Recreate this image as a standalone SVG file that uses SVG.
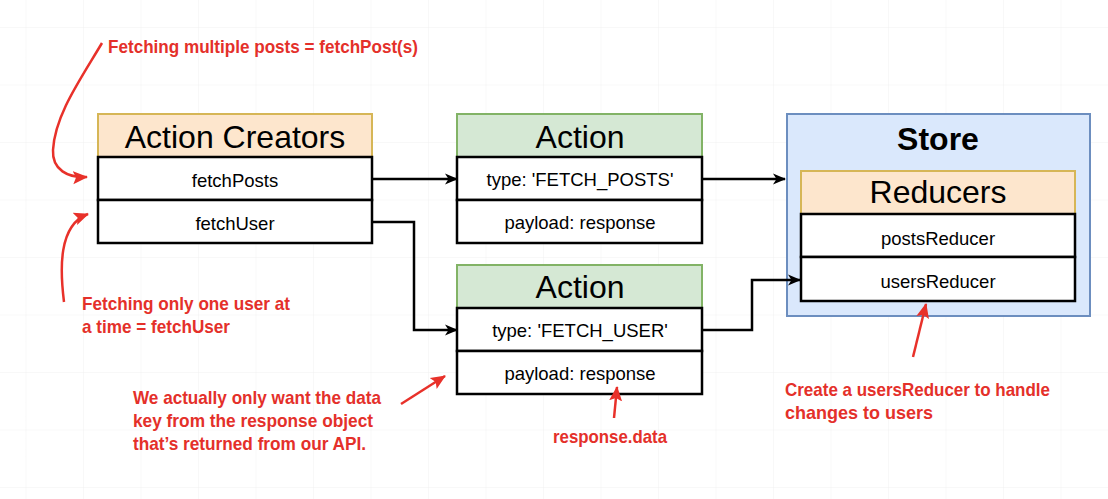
<svg xmlns="http://www.w3.org/2000/svg" width="1108" height="499" viewBox="0 0 1108 499">
<style>
.hdr{font-family:"Liberation Sans",Arial,sans-serif;font-size:32px;fill:#000;text-anchor:middle}
.row{font-family:"Liberation Sans",Arial,sans-serif;font-size:18.5px;fill:#000;text-anchor:middle}
.box{fill:#fff;stroke:#000;stroke-width:2.5}
.orange{fill:#fde6cd;stroke:#d6b656;stroke-width:2}
.green{fill:#d5e8d4;stroke:#82b366;stroke-width:2}
.conn{fill:none;stroke:#000;stroke-width:2.5}
.note{font-family:"Liberation Sans",Arial,sans-serif;font-size:19px;font-weight:bold;fill:#e4302a}
.red{fill:none;stroke:#e8312a;stroke-width:2.5}
</style>
<defs>
<pattern id="grid" x="25.5" y="27" width="57.5" height="57.5" patternUnits="userSpaceOnUse">
<path d="M0 0 H57.5 M0 0 V57.5" fill="none" stroke="#f1f1f1" stroke-width="1"/>
</pattern>
<marker id="blk" markerUnits="userSpaceOnUse" markerWidth="14" markerHeight="14" viewBox="0 0 14 14" refX="12" refY="7" orient="auto">
<path d="M0 1.5 L13 7 L0 12.5 L3.5 7 Z" fill="#000"/>
</marker>
<marker id="rd" markerUnits="userSpaceOnUse" markerWidth="16" markerHeight="16" viewBox="0 0 16 16" refX="14" refY="8" orient="auto">
<path d="M0 1.5 L15 8 L0 14.5 L3 8 Z" fill="#e8312a"/>
</marker>
</defs>
<rect width="1108" height="499" fill="#fff"/>
<rect width="1108" height="499" fill="url(#grid)"/>

<g id="store">
<rect x="787" y="114" width="303" height="202" fill="#dae8fc" stroke="#6c8ebf" stroke-width="2"/>
<text x="938" y="150" class="hdr" font-weight="bold">Store</text>
</g>

<g id="action-creators">
<rect x="98" y="114" width="274" height="43" class="orange"/>
<text x="235" y="147.5" class="hdr">Action Creators</text>
<rect x="98" y="157" width="274" height="43" class="box"/>
<text x="235" y="186.5" class="row">fetchPosts</text>
<rect x="98" y="200" width="274" height="43" class="box"/>
<text x="235" y="229.5" class="row">fetchUser</text>
</g>

<g id="action-posts">
<rect x="457" y="114" width="245" height="43" class="green"/>
<text x="580" y="147.5" class="hdr">Action</text>
<rect x="457" y="157" width="245" height="43" class="box"/>
<text x="580" y="186" class="row">type: 'FETCH_POSTS'</text>
<rect x="457" y="200" width="245" height="43" class="box"/>
<text x="580" y="229" class="row">payload: response</text>
</g>

<g id="action-user">
<rect x="457" y="265" width="245" height="43" class="green"/>
<text x="580" y="298" class="hdr">Action</text>
<rect x="457" y="308" width="245" height="43" class="box"/>
<text x="580" y="337" class="row">type: 'FETCH_USER'</text>
<rect x="457" y="351" width="245" height="43" class="box"/>
<text x="580" y="380" class="row">payload: response</text>
</g>

<g id="reducers">
<rect x="801" y="171" width="274" height="43" class="orange"/>
<text x="938" y="203" class="hdr">Reducers</text>
<rect x="801" y="214" width="274" height="43" class="box"/>
<text x="938" y="245" class="row">postsReducer</text>
<rect x="801" y="257" width="274" height="44" class="box"/>
<text x="938" y="288" class="row">usersReducer</text>
</g>

<g id="connectors">
<path class="conn" d="M372 179 H457" marker-end="url(#blk)"/>
<path class="conn" d="M372 222 H414 V330 H457" marker-end="url(#blk)"/>
<path class="conn" d="M702 179 H785" marker-end="url(#blk)"/>
<path class="conn" d="M702 330 H752 V280 H800" marker-end="url(#blk)"/>
</g>

<g id="annotations">
<path class="red" d="M102 43 C80 80 55 115 53 150 C52 170 68 178 87 177" marker-end="url(#rd)"/>
<path class="red" d="M64 302 C60 270 58 225 88 214" marker-end="url(#rd)"/>
<path class="red" d="M401 404 L445 376" marker-end="url(#rd)"/>
<path class="red" d="M614 418 L617 387" marker-end="url(#rd)"/>
<path class="red" d="M913 357 L926 304" marker-end="url(#rd)"/>
<text class="note" x="108" y="53" textLength="310" lengthAdjust="spacingAndGlyphs">Fetching multiple posts = fetchPost(s)</text>
<text class="note" x="82" y="310" textLength="208" lengthAdjust="spacingAndGlyphs">Fetching only one user at</text>
<text class="note" x="82" y="333" textLength="148" lengthAdjust="spacingAndGlyphs">a time = fetchUser</text>
<text class="note" x="133" y="404" textLength="248" lengthAdjust="spacingAndGlyphs">We actually only want the data</text>
<text class="note" x="133" y="427" textLength="240" lengthAdjust="spacingAndGlyphs">key from the response object</text>
<text class="note" x="133" y="450" textLength="233" lengthAdjust="spacingAndGlyphs">that’s returned from our API.</text>
<text class="note" x="553" y="443" textLength="114" lengthAdjust="spacingAndGlyphs">response.data</text>
<text class="note" x="785" y="396" textLength="265" lengthAdjust="spacingAndGlyphs">Create a usersReducer to handle</text>
<text class="note" x="785" y="419" textLength="148" lengthAdjust="spacingAndGlyphs">changes to users</text>
</g>
</svg>
